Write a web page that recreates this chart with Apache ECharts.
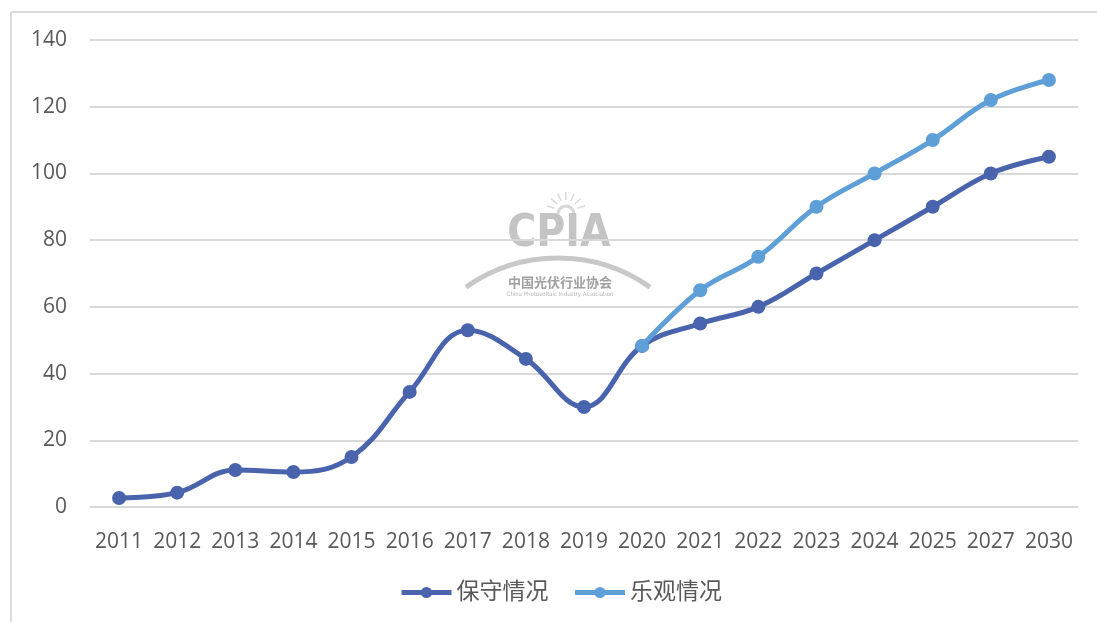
<!DOCTYPE html>
<html>
<head>
<meta charset="utf-8">
<title>CPIA</title>
<style>
  html, body { margin: 0; padding: 0; background: #fff; }
  #chart { width: 1097px; height: 622px; }
</style>
</head>
<body>
<div id="chart"></div>
<script src="https://cdn.jsdelivr.net/npm/echarts@6/dist/echarts.min.js"></script>
<script type="text/javascript">
  var years = ['2011', '2012', '2013', '2014', '2015', '2016', '2017', '2018', '2019', '2020',
               '2021', '2022', '2023', '2024', '2025', '2027', '2030'];
  // 保守情况
  var conservative = [2.7, 4.3, 11.1, 10.5, 15, 34.5, 53, 44.4, 30, 48.3,
                      55, 60, 70, 80, 90, 100, 105];
  // 乐观情况 (从2020年开始)
  var optimistic = [null, null, null, null, null, null, null, null, null, 48.3,
                    65, 75, 90, 100, 110, 122, 128];
  var seriesNames = ['保守情况', '乐观情况'];

  var font = '"Open Sans", "Noto Sans CJK SC", sans-serif';
  var myChart = echarts.init(document.getElementById('chart'));

  // 水印上的小太阳
  var rays = [];
  for (var i = 0; i < 7; i++) {
    var a = Math.PI * (1.1 + i * 0.133);
    rays.push({ type: 'line', shape: { x1: 566 + Math.cos(a) * 12, y1: 212 + Math.sin(a) * 12,
                                       x2: 566 + Math.cos(a) * 20, y2: 212 + Math.sin(a) * 20 },
                style: { stroke: '#dadada', lineWidth: 1.5 } });
  }

  var option = {
    backgroundColor: '#fff',
    animation: false,
    color: ['#4964ad', '#5d9fd6'],
    textStyle: { fontFamily: font },
    grid: { left: 90, right: 19, top: 40, bottom: 115 },
    legend: {
      bottom: 13,
      left: 394,
      itemWidth: 50,
      itemHeight: 14,
      itemGap: 24,
      lineStyle: { width: 5 },
      textStyle: { fontSize: 23, color: '#595959', fontFamily: font },
      data: seriesNames
    },
    graphic: [
      // 外框
      { type: 'line', shape: { x1: 11, y1: 12, x2: 1097, y2: 12 }, style: { stroke: '#dcdcdc', lineWidth: 2 }, silent: true },
      { type: 'line', shape: { x1: 11, y1: 12, x2: 11, y2: 622 }, style: { stroke: '#dcdcdc', lineWidth: 2 }, silent: true },
      // 水印
      {
        type: 'group', silent: true, z: 0,
        children: rays.concat([
          { type: 'arc', shape: { cx: 566, cy: 214, r: 8, startAngle: Math.PI, endAngle: 2 * Math.PI },
            style: { stroke: '#d6d6d6', lineWidth: 3, fill: null } },
          { type: 'text', x: 559, y: 235, style: { text: 'CPIA', fontSize: 44, fontWeight: 'bold', fill: '#c4c4c4',
              fontFamily: '"DejaVu Sans Condensed", "DejaVu Sans", sans-serif', align: 'center', verticalAlign: 'middle' } },
          { type: 'arc', shape: { cx: 558, cy: 418, r: 160, startAngle: Math.PI * 1.305, endAngle: Math.PI * 1.695 },
            style: { stroke: '#c8c8c8', lineWidth: 5, fill: null } },
          { type: 'text', x: 560, y: 282, style: { text: '中国光伏行业协会', fontSize: 13, fontWeight: 'bold', fill: '#a0a0a0',
              fontFamily: '"Noto Sans CJK SC", sans-serif', align: 'center', verticalAlign: 'middle' } },
          { type: 'text', x: 560, y: 294, style: { text: 'China Photovoltaic Industry Association', fontSize: 6, fill: '#b4b4b4',
              fontFamily: '"DejaVu Sans Condensed", sans-serif', align: 'center', verticalAlign: 'middle' } }
        ])
      }
    ],
    xAxis: {
      type: 'category',
      data: years,
      boundaryGap: true,
      axisLine: { show: false },
      axisTick: { show: false },
      axisLabel: { fontSize: 21, color: '#595959', margin: 25, interval: 0, fontFamily: font }
    },
    yAxis: {
      type: 'value',
      min: 0,
      max: 140,
      interval: 20,
      axisLine: { show: false },
      axisTick: { show: false },
      axisLabel: { fontSize: 21, color: '#595959', margin: 23, fontFamily: font },
      splitLine: { lineStyle: { color: '#d9d9d9', width: 2 } }
    },
    series: [
      {
        name: seriesNames[0],
        type: 'line',
        data: conservative,
        smooth: 0.4,
        symbol: 'circle',
        symbolSize: 14,
        lineStyle: { width: 5 },
        z: 3
      },
      {
        name: seriesNames[1],
        type: 'line',
        data: optimistic,
        smooth: 0.4,
        symbol: 'circle',
        symbolSize: 14,
        lineStyle: { width: 5 },
        z: 4
      }
    ]
  };
  myChart.setOption(option);
</script>
</body>
</html>
